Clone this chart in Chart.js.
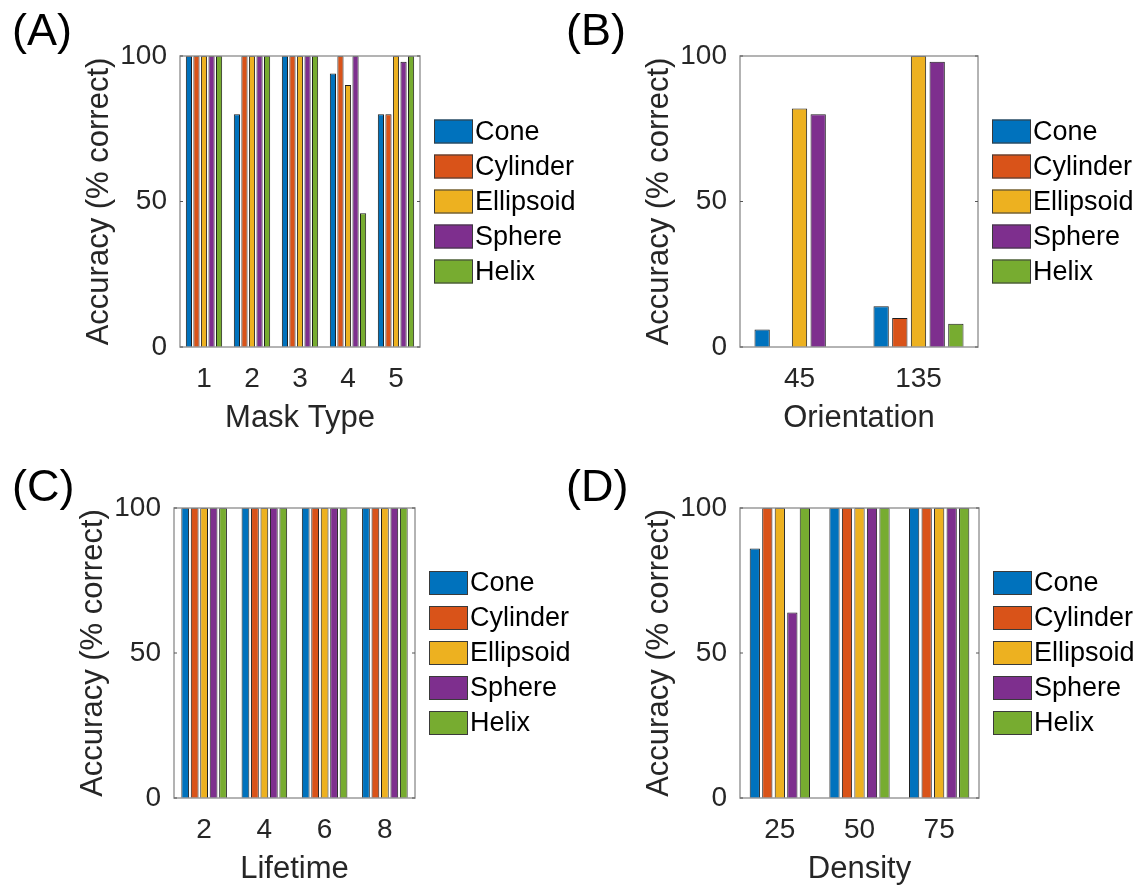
<!DOCTYPE html>
<html>
<head>
<meta charset="utf-8">
<script src="https://cdn.jsdelivr.net/npm/chart.js@4.4.0/dist/chart.umd.min.js"></script>
<style>
body { margin: 0; background: #fff; width: 1145px; height: 886px; position: relative; overflow: hidden; font-family: "Liberation Sans", Arial, sans-serif; }
canvas { position: absolute; }
.tag { position: absolute; font-size: 45px; line-height: 1; color: #000; }
</style>
</head>
<body>
<canvas id="chartA" width="610" height="443" style="left:0;top:0"></canvas>
<canvas id="chartB" width="585" height="443" style="left:560px;top:0"></canvas>
<canvas id="chartC" width="610" height="443" style="left:0;top:443px"></canvas>
<canvas id="chartD" width="585" height="443" style="left:560px;top:443px"></canvas>

<div class="tag" style="left:12px;top:7px">(A)</div>
<div class="tag" style="left:566px;top:7px">(B)</div>
<div class="tag" style="left:12px;top:463px">(C)</div>
<div class="tag" style="left:566px;top:463px">(D)</div>

<script>
// series (same order in every panel)
let shapes = ['Cone', 'Cylinder', 'Ellipsoid', 'Sphere', 'Helix'];
let colors = ['#0072BD', '#D95319', '#EDB120', '#7E2F8E', '#77AC30'];

// (A) mask type, one row per shape
let maskTypes = ['1', '2', '3', '4', '5'];
let maskAcc = [
    [100, 80, 100, 94, 80],
    [100, 100, 100, 100, 80],
    [100, 100, 100, 90, 100],
    [100, 100, 100, 100, 98],
    [100, 100, 100, 46, 100]
];

// (B) orientation
let orientations = ['45', '135'];
let orientAcc = [
    [6, 14],
    [0, 10],
    [82, 100],
    [80, 98],
    [0, 8]
];

// (C) lifetime
let lifetimes = ['2', '4', '6', '8'];
let lifetimeAcc = [
    [100, 100, 100, 100],
    [100, 100, 100, 100],
    [100, 100, 100, 100],
    [100, 100, 100, 100],
    [100, 100, 100, 100]
];

// (D) density
let densities = ['25', '50', '75'];
let densityAcc = [
    [86, 100, 100],
    [100, 100, 100],
    [100, 100, 100],
    [64, 100, 100],
    [100, 100, 100]
];

let yTicks = [0, 50, 100];

const FONT = '"Liberation Sans", Arial, sans-serif';
const TXT = '#262626';

// box around the plot + small inward ticks like matlab
const framePlugin = {
    id: 'frame',
    afterDatasetsDraw(chart) {
        const { ctx, chartArea: a, scales } = chart;
        ctx.save();
        ctx.strokeStyle = '#9b9b9b';
        ctx.lineWidth = 1.5;
        ctx.strokeRect(a.left, a.top, a.right - a.left, a.bottom - a.top);
        ctx.strokeStyle = '#555';
        ctx.lineWidth = 1;
        yTicks.forEach(v => {
            const y = scales.y.getPixelForValue(v);
            ctx.beginPath();
            ctx.moveTo(a.left, y); ctx.lineTo(a.left + 3, y);
            ctx.moveTo(a.right, y); ctx.lineTo(a.right - 3, y);
            ctx.stroke();
        });
        ctx.restore();
    }
};

// legend to the right of the axes, centred on the plot
const sideLegend = {
    id: 'sideLegend',
    afterDraw(chart) {
        const { ctx, chartArea: a } = chart;
        const sets = chart.data.datasets;
        const mid = (a.top + a.bottom) / 2;
        ctx.save();
        ctx.font = '27px ' + FONT;
        ctx.textBaseline = 'middle';
        sets.forEach((ds, i) => {
            const y = mid + (i - (sets.length - 1) / 2) * 35;
            const x = a.right + 14;
            ctx.fillStyle = ds.backgroundColor;
            ctx.fillRect(x, y - 12, 39, 24);
            ctx.strokeStyle = '#3a3a3a';
            ctx.lineWidth = 1;
            ctx.strokeRect(x + 0.5, y - 11.5, 38, 23);
            ctx.fillStyle = '#000';
            ctx.fillText(ds.label, x + 41, y + 1);
        });
        ctx.restore();
    }
};

function makePanel(id, box, plot, labels, values, xTitle) {
    const yWidth = plot.left - box.left;
    const xHeight = box.top + box.height - plot.bottom;
    const yTitlePad = (plot.left - 81) - box.left - 15.5;
    const xTitlePad = (box.top + box.height) - (plot.bottom + 71) - 15.5;

    return new Chart(document.getElementById(id), {
        type: 'bar',
        data: {
            labels: labels,
            datasets: shapes.map((s, i) => ({
                label: s,
                data: values[i],
                backgroundColor: colors[i],
                borderColor: '#1e1e1e',
                borderWidth: 1,
                categoryPercentage: 0.785,
                barPercentage: 0.82
            }))
        },
        options: {
            responsive: false,
            animation: false,
            devicePixelRatio: 1,
            layout: {
                padding: {
                    left: 0,
                    top: plot.top - box.top,
                    right: box.left + box.width - plot.right,
                    bottom: 0
                }
            },
            plugins: {
                legend: { display: false },
                tooltip: { enabled: false }
            },
            scales: {
                x: {
                    grid: { display: false, drawTicks: false },
                    border: { display: false },
                    ticks: { color: TXT, font: { family: FONT, size: 28 }, padding: 15 },
                    title: {
                        display: true, text: xTitle, color: TXT,
                        font: { family: FONT, size: 31, lineHeight: 1 },
                        padding: { top: 0, bottom: xTitlePad }
                    },
                    afterFit: s => { s.height = xHeight; }
                },
                y: {
                    min: 0,
                    max: 100,
                    grid: { display: false, drawTicks: false },
                    border: { display: false },
                    afterBuildTicks: s => { s.ticks = yTicks.map(v => ({ value: v })); },
                    ticks: { color: TXT, font: { family: FONT, size: 28 }, padding: 13 },
                    title: {
                        display: true, text: 'Accuracy (% correct)', color: TXT,
                        font: { family: FONT, size: 31, lineHeight: 1 },
                        padding: { top: yTitlePad, bottom: 0 }
                    },
                    afterFit: s => { s.width = yWidth; }
                }
            }
        },
        plugins: [framePlugin, sideLegend]
    });
}

makePanel('chartA', { left: 0, top: 0, width: 610, height: 443 },
    { left: 180, top: 56, right: 420, bottom: 347 }, maskTypes, maskAcc, 'Mask Type');
makePanel('chartB', { left: 560, top: 0, width: 585, height: 443 },
    { left: 740, top: 56, right: 978, bottom: 347 }, orientations, orientAcc, 'Orientation');
makePanel('chartC', { left: 0, top: 443, width: 610, height: 443 },
    { left: 174, top: 508, right: 415, bottom: 798 }, lifetimes, lifetimeAcc, 'Lifetime');
makePanel('chartD', { left: 560, top: 443, width: 585, height: 443 },
    { left: 740, top: 508, right: 979, bottom: 798 }, densities, densityAcc, 'Density');
</script>
</body>
</html>
